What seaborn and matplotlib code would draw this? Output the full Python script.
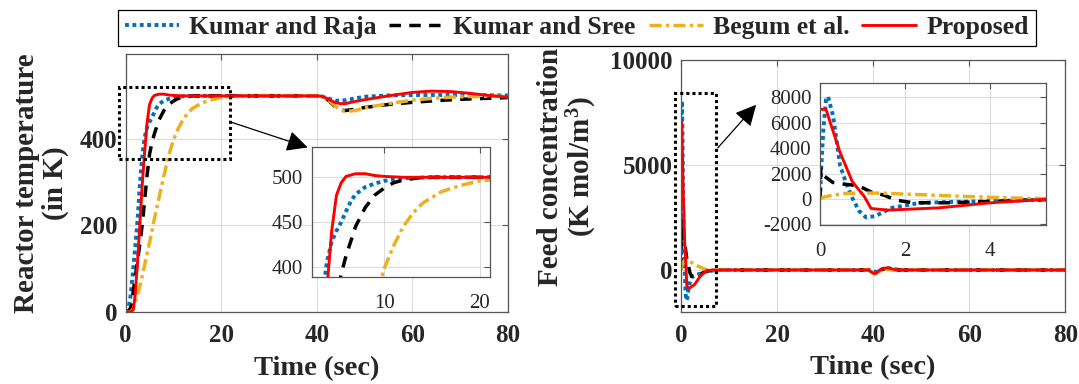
import matplotlib
matplotlib.use("Agg")
import matplotlib.pyplot as plt
import seaborn as sns
from matplotlib.patches import Rectangle, FancyArrowPatch

# ---------------- data ----------------
series_names = ["Kumar and Raja", "Kumar and Sree", "Begum et al.", "Proposed"]

# Reactor temperature (K)
t_raja_T = [0, 0.5, 1, 1.5, 2, 2.5, 3, 3.5, 4, 4.5, 5, 5.5, 6, 6.5, 7, 8, 9, 10, 12, 15,
            40, 41, 42, 43, 44, 45, 46, 48, 50, 55, 60, 70, 80]
T_raja = [0, 3, 35, 90, 150, 215, 300, 365, 405, 428, 440, 450, 462, 473, 481, 489, 493, 496, 499, 500,
          500, 499, 496, 492, 489, 489, 490, 494, 498, 501, 502, 502, 501]

t_sree_T = [0, 0.7, 1.25, 1.5, 2, 2.5, 3, 3.5, 4, 4.5, 5, 5.5, 6, 7, 8, 9, 10, 11, 12, 14,
            40, 41, 42, 43, 44, 45, 46, 48, 50, 55, 60, 65, 70, 75, 80]
T_sree = [0, 2, 15, 40, 80, 120, 160, 205, 262, 318, 365, 392, 412, 445, 466, 480, 488, 494, 497, 500,
          500, 499, 494, 484, 473, 467, 466, 469, 473, 480, 485, 489, 492, 494, 496]

t_begum_T = [0, 1, 1.5, 2, 3, 4, 5, 6, 7, 8, 9, 10, 11, 12, 13, 14, 16, 18, 20, 22, 25,
             40, 41, 42, 43, 44, 45, 46, 48, 50, 55, 60, 65, 70, 75, 80]
T_begum = [0, 0, 5, 20, 60, 110, 160, 215, 265, 315, 362, 398, 424, 445, 460, 471, 484, 491, 496, 498, 500,
           500, 499, 494, 485, 475, 467, 464, 466, 472, 482, 490, 495, 498, 499, 499]

t_prop_T = [0, 1.2, 1.6, 2, 2.5, 3, 3.5, 4, 4.5, 5, 5.5, 6, 7, 8, 9, 10, 12,
            40, 41, 42, 43, 44, 45, 46, 48, 50, 55, 60, 64, 68, 72, 76, 80]
T_prop = [0, 0, 5, 40, 120, 210, 300, 375, 440, 480, 494, 501, 504, 504, 502, 501, 500,
          500, 499, 495, 489, 484, 482, 482, 487, 491, 500, 508, 511, 510, 506, 501, 497]

# Feed concentration (K mol/m^3)
t_raja_C = [0, 0.03, 0.08, 0.14, 0.19, 0.31, 0.47, 0.63, 0.76, 0.92, 1.08, 1.3, 1.69, 2.34, 3.15, 3.97, 5.33, 8,
            39, 40, 41, 42, 43, 44, 46, 80]
C_raja = [0, 2500, 5500, 7800, 8050, 6500, 2650, 1100, 80, -950, -1450, -1350, -700, -310, -230, -180, -50, 0,
          0, -60, -100, 50, 100, 50, 0, 0]

t_sree_C = [0, 0.02, 0.1, 0.3, 0.6, 0.9, 1.2, 1.5, 1.8, 2.2, 3, 4, 5.3, 8,
            39, 40, 41, 42, 44, 80]
C_sree = [0, 2400, 1800, 1300, 1150, 1050, 550, 300, -100, -300, -300, -200, -50, 0,
          0, -50, -80, 60, 0, 0]

t_begum_C = [0, 0.1, 0.3, 0.6, 1.0, 1.5, 2, 2.5, 3, 3.5, 4, 4.5, 5.3, 8,
             39, 40, 40.5, 41, 42, 44, 80]
C_begum = [0, 150, 300, 420, 470, 450, 380, 320, 250, 190, 130, 80, 20, 0,
           0, -150, -200, -120, 50, 0, 0]

t_prop_C = [0, 0.14, 0.47, 0.76, 1.04, 1.2, 1.6, 2.0, 2.8, 3.97, 5.3, 7,
            39, 40, 40.5, 41, 42, 43, 45, 80]
C_prop = [7050, 7050, 3680, 1360, 200, -750, -880, -820, -700, -310, -30, 0,
          0, -150, -180, -80, 80, 100, 0, 0]

temp_series = [(t_raja_T, T_raja), (t_sree_T, T_sree), (t_begum_T, T_begum), (t_prop_T, T_prop)]
conc_series = [(t_raja_C, C_raja), (t_sree_C, C_sree), (t_begum_C, C_begum), (t_prop_C, C_prop)]

main_xticks = [0, 20, 40, 60, 80]
temp_yticks = [0, 200, 400]
conc_yticks = [0, 5000, 10000]
temp_inset_xticks = [10, 20]
temp_inset_yticks = [400, 450, 500]
conc_inset_xticks = [0, 2, 4]
conc_inset_yticks = [-2000, 0, 2000, 4000, 6000, 8000]

# ---------------- style ----------------
colors = ["#0072BD", "#000000", "#EDB120", "#FF0000"]
styles = [(0, (1, 0.9)), (0, (3.3, 2.4)), (0, (3.5, 1.2, 1, 1.2)), "-"]
widths = [2.8, 2.5, 2.5, 2.1]

sns.set_style("white")
plt.rcParams["font.family"] = ["Liberation Serif", "DejaVu Serif"]
plt.rcParams["axes.unicode_minus"] = False
plt.rcParams["mathtext.fontset"] = "custom"
plt.rcParams["mathtext.rm"] = "Liberation Serif:bold"
plt.rcParams["mathtext.it"] = "Liberation Serif:bold"
plt.rcParams["mathtext.bf"] = "Liberation Serif:bold"

W, H = 1079, 384
fig = plt.figure(figsize=(W / 100, H / 100), dpi=100)


def px_rect(x0, y0, x1, y1):
    return [x0 / W, 1 - y1 / H, (x1 - x0) / W, (y1 - y0) / H]


def style_axes(ax, bold=True, fs=18, xpad=9, ypad=6):
    for s in ax.spines.values():
        s.set_color("#555555")
        s.set_linewidth(0.9)
    ax.grid(True, color="#dcdcdc", linewidth=0.8)
    ax.set_axisbelow(True)
    ax.tick_params(direction="in", length=4, width=0.8, color="#555555",
                   top=True, right=True, labelsize=fs)
    ax.tick_params(axis="x", pad=xpad)
    ax.tick_params(axis="y", pad=ypad)
    for lab in ax.get_xticklabels() + ax.get_yticklabels():
        lab.set_fontweight("bold" if bold else "normal")


def draw(ax, series):
    handles = []
    for (t, v), c, ls, lw, name in zip(series, colors, styles, widths, series_names):
        sns.lineplot(x=t, y=v, ax=ax, color=c, linestyle=ls, linewidth=lw,
                     estimator=None, sort=False, legend=False, label=name)
        handles.append(ax.lines[-1])
    return handles


# ----- left: reactor temperature -----
axL = fig.add_axes(px_rect(125.7, 54, 507.7, 311.7))
handles = draw(axL, temp_series)
axL.set_xlim(0, 80)
axL.set_ylim(0, 597)
axL.set_xticks(main_xticks)
axL.set_yticks(temp_yticks)
style_axes(axL)
axL.set_xlabel("Time (sec)", fontsize=20.5, fontweight="bold", va="center")
axL.xaxis.set_label_coords(0.5, -0.22)
axL.set_ylabel("Reactor temperature\n(in K)", fontsize=21, fontweight="bold",
               va="center", linespacing=1.05)
axL.yaxis.set_label_coords(-0.222, 0.5)
axL.add_patch(Rectangle((-1.3, 354), 23.1, 166, fill=False, edgecolor="black",
                        linestyle=(0, (1, 1)), linewidth=2.2, clip_on=False, zorder=5))

insL = fig.add_axes(px_rect(311.7, 147.3, 490, 277.3))
draw(insL, temp_series)
insL.set_xlim(2.41, 21.05)
insL.set_ylim(388, 533.6)
insL.set_xticks(temp_inset_xticks)
insL.set_yticks(temp_inset_yticks)
style_axes(insL, bold=False, fs=15, xpad=12, ypad=6)

# ----- right: feed concentration -----
axR = fig.add_axes(px_rect(681, 60, 1065.3, 312))
draw(axR, conc_series)
axR.set_xlim(0, 80)
axR.set_ylim(-2000, 10000)
axR.set_xticks(main_xticks)
axR.set_yticks(conc_yticks)
style_axes(axR)
axR.set_xlabel("Time (sec)", fontsize=20.5, fontweight="bold", va="center")
axR.xaxis.set_label_coords(0.5, -0.222)
axR.set_ylabel("Feed concentration\n(K mol/m$^{3}$)", fontsize=21, fontweight="bold",
               va="center", linespacing=1.05)
axR.yaxis.set_label_coords(-0.294, 0.575)
axR.add_patch(Rectangle((-1.25, -1725), 8.55, 10150, fill=False, edgecolor="black",
                        linestyle=(0, (1, 1)), linewidth=2.2, clip_on=False, zorder=5))

insR = fig.add_axes(px_rect(820, 83.3, 1046.2, 225))
draw(insR, conc_series)
insR.set_xlim(0, 5.32)
insR.set_ylim(-2050, 9100)
insR.set_xticks(conc_inset_xticks)
insR.set_yticks(conc_inset_yticks)
style_axes(insR, bold=False, fs=15, xpad=12, ypad=6)

# ----- arrows -----
for (x0, y0), (x1, y1) in [((227.6, 121), (310.3, 148.3)), ((715.9, 150), (758, 102.7))]:
    arr = FancyArrowPatch((x0 / W, 1 - y0 / H), (x1 / W, 1 - y1 / H),
                          transform=fig.transFigure, arrowstyle="-|>,head_length=8,head_width=4",
                          color="black", linewidth=0.9, mutation_scale=1.6)
    fig.add_artist(arr)

# ----- legend -----
leg = fig.legend(handles, series_names, loc="upper center",
                 bbox_to_anchor=((116.7 + 1037) / 2 / W, 1 - 10 / H), ncol=4,
                 frameon=True, fancybox=False, edgecolor="black", framealpha=1,
                 handlelength=2.1, handletextpad=0.4, columnspacing=0.5,
                 borderpad=0.25, borderaxespad=0,
                 prop={"family": "Liberation Serif", "weight": "bold", "size": 18.5})
leg.get_frame().set_linewidth(0.9)
leg.set_zorder(10)

fig.savefig("out.png", dpi=100)
